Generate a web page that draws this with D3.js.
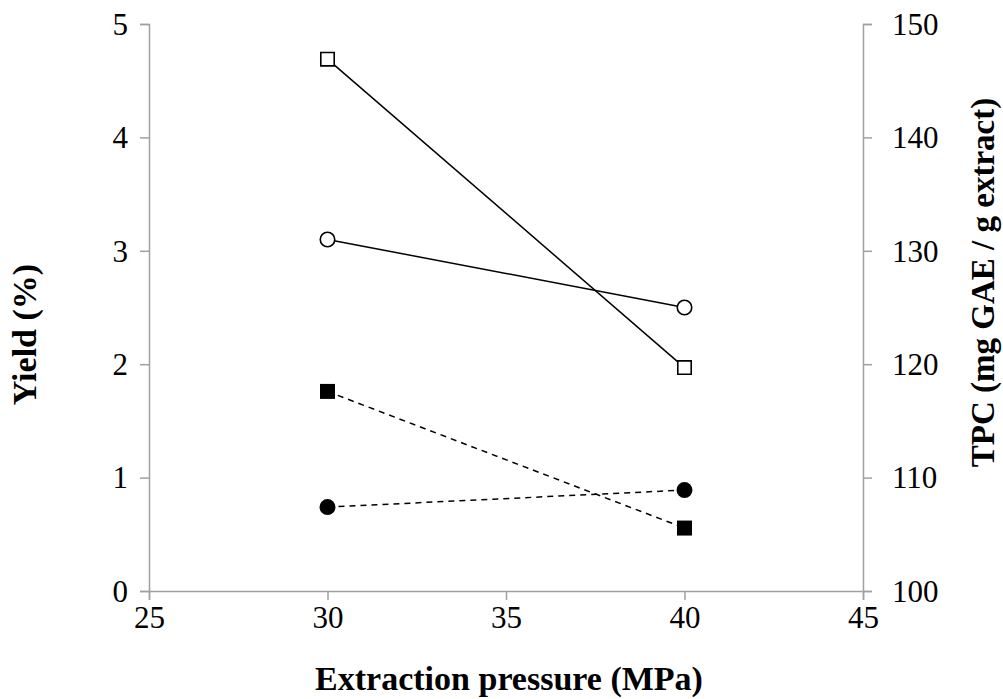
<!DOCTYPE html>
<html>
<head>
<meta charset="utf-8">
<script src="https://cdn.jsdelivr.net/npm/d3@7"></script>
<style>
  body { margin: 0; background: #fff; }
  .axis path, .axis line { stroke: #a0a0a0; stroke-width: 1.5; }
  .axis text { font-family: "Liberation Serif", "Times New Roman", serif; font-size: 31px; fill: #000; }
  .title { font-family: "Liberation Serif", "Times New Roman", serif; font-size: 34px; font-weight: bold; fill: #000; }
</style>
</head>
<body>
<svg class="chart"></svg>
<script>
// extraction pressure (MPa)
var pressure = [30, 40];
// yield (%) - dashed lines, filled markers
var yieldSquare = [1.76, 0.555];
var yieldCircle = [0.74, 0.89];
// TPC (mg GAE / g extract) - solid lines, open markers
var tpcSquare = [146.9, 119.7];
var tpcCircle = [131.0, 125.0];

var xTicks = [25, 30, 35, 40, 45];
var yTicks = [0, 1, 2, 3, 4, 5];
var y2Ticks = [100, 110, 120, 130, 140, 150];

var margin = { top: 24, right: 140, bottom: 108, left: 149 };
var width = 1003 - margin.left - margin.right;
var height = 699 - margin.top - margin.bottom;

var x = d3.scaleLinear().domain([25, 45]).range([0, width]);
var y = d3.scaleLinear().domain([0, 5]).range([height, 0]);
var y2 = d3.scaleLinear().domain([100, 150]).range([height, 0]);

var svg = d3.select('.chart')
  .attr('width', 1003)
  .attr('height', 699);

var chart = svg.append('g')
  .attr('transform', 'translate(' + margin.left + ',' + margin.top + ')');

// axes
chart.append('g')
  .attr('class', 'x axis')
  .attr('transform', 'translate(0,' + height + ')')
  .call(d3.axisBottom(x).tickValues(xTicks).tickFormat(d3.format('d'))
    .tickSizeOuter(0).tickSize(9).tickPadding(6));

chart.append('g')
  .attr('class', 'y axis')
  .call(d3.axisLeft(y).tickValues(yTicks).tickFormat(d3.format('d'))
    .tickSizeOuter(0).tickSize(9).tickPadding(12));

chart.append('g')
  .attr('class', 'y2 axis')
  .attr('transform', 'translate(' + width + ',0)')
  .call(d3.axisRight(y2).tickValues(y2Ticks).tickFormat(d3.format('d'))
    .tickSizeOuter(0).tickSize(9).tickPadding(20));

chart.selectAll('.y.axis text, .y2.axis text').attr('dy', '0.33em');
chart.select('.x.axis').selectAll('text').attr('dy', '0.71em');

// series
var series = [
  { vals: tpcSquare, scale: y2, dash: null, shape: 'square', fill: '#fff' },
  { vals: tpcCircle, scale: y2, dash: null, shape: 'circle', fill: '#fff' },
  { vals: yieldSquare, scale: y, dash: '6,5', shape: 'square', fill: '#000' },
  { vals: yieldCircle, scale: y, dash: '6,5', shape: 'circle', fill: '#000' }
];

series.forEach(function (s) {
  var pts = pressure.map(function (p, i) { return [x(p), s.scale(s.vals[i])]; });
  chart.append('path')
    .attr('d', d3.line()(pts))
    .attr('fill', 'none')
    .attr('stroke', '#000')
    .attr('stroke-width', 1.5)
    .attr('stroke-dasharray', s.dash);

  var sym = d3.symbol()
    .type(s.shape === 'square' ? d3.symbolSquare : d3.symbolCircle)
    .size(s.shape === 'square' ? (s.fill === '#fff' ? 180 : 225) : (s.fill === '#fff' ? 165 : 200));

  chart.selectAll(null)
    .data(pts)
    .enter().append('path')
    .attr('d', sym)
    .attr('transform', function (d) { return 'translate(' + d[0] + ',' + d[1] + ')'; })
    .attr('fill', s.fill)
    .attr('stroke', '#000')
    .attr('stroke-width', s.fill === '#fff' ? 1.6 : 0);
});

// titles
svg.append('text')
  .attr('class', 'title')
  .attr('x', margin.left + width / 2 + 3)
  .attr('y', 690)
  .attr('text-anchor', 'middle')
  .text('Extraction pressure (MPa)');

svg.append('text')
  .attr('class', 'title')
  .attr('transform', 'translate(36,' + (margin.top + height / 2 + 27) + ') rotate(-90)')
  .attr('text-anchor', 'middle')
  .text('Yield (%)');

svg.append('text')
  .attr('class', 'title')
  .attr('transform', 'translate(994,' + (margin.top + height / 2 - 25) + ') rotate(-90)')
  .attr('text-anchor', 'middle')
  .style('font-size', '33px')
  .text('TPC (mg GAE / g extract)');
</script>
</body>
</html>
